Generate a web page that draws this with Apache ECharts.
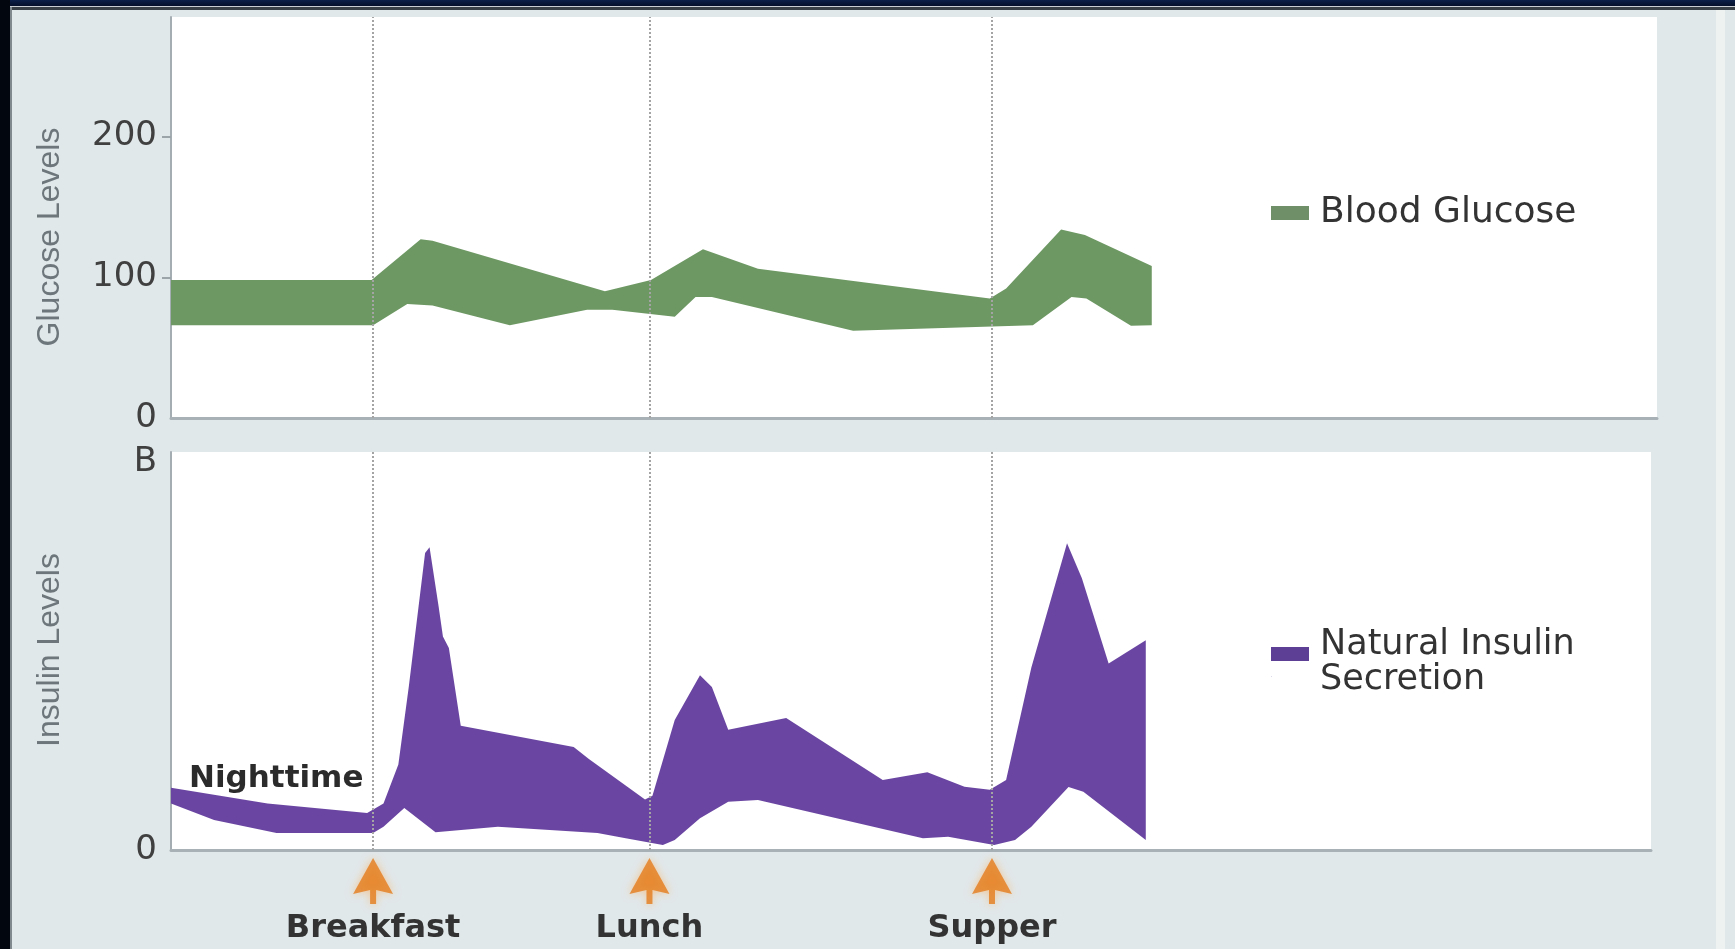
<!DOCTYPE html>
<html>
<head>
<meta charset="utf-8">
<title>Blood Glucose and Natural Insulin Secretion</title>
<script src="https://cdn.jsdelivr.net/npm/echarts@6/dist/echarts.min.js"></script>
<style>
  html, body { margin: 0; padding: 0; width: 1735px; height: 949px; overflow: hidden; background: #e1e8ea; }
  .frame { position: absolute; }
  #frameTop { left: 0; top: 0; width: 1735px; height: 6px; background: linear-gradient(#0c2048, #050f2a); }
  #lineTopLight { left: 0; top: 6px; width: 1735px; height: 1px; background: #c9ced2; }
  #lineTop { left: 10px; top: 7px; width: 1725px; height: 3px; background: #3a4146; }
  #frameLeft { left: 0; top: 0; width: 10px; height: 949px; background: #02060f; }
  #lineLeft { left: 10px; top: 7px; width: 2px; height: 942px; background: #7f898e; }
  #stripRight { left: 1716px; top: 10px; width: 9px; height: 939px; background: #eef2f0; }
  #chart { position: absolute; left: 0; top: 0; width: 1735px; height: 949px; }
</style>
</head>
<body>
<div class="frame" id="frameTop"></div>
<div class="frame" id="lineTopLight"></div>
<div class="frame" id="lineTop"></div>
<div class="frame" id="frameLeft"></div>
<div class="frame" id="lineLeft"></div>
<div class="frame" id="stripRight"></div>
<div id="chart"></div>
<script>
// Time runs 0..100 across the plot width; meals mark the dotted lines.
const mealTimes = [13.6, 32.2, 55.25];
const mealNames = ['Breakfast', 'Lunch', 'Supper'];

// Blood glucose band: upper and lower edges
const glucoseUpperT = [0, 13.5, 16.8, 17.6, 29.2, 32.3, 35.8, 39.5, 55.1, 56.2, 59.9, 61.5, 66.0];
const glucoseUpper  = [98, 98, 127, 126, 90, 98, 120, 106, 85, 92, 134, 130, 108];
const glucoseLowerT = [0, 13.6, 15.9, 17.6, 22.8, 28.0, 29.7, 33.9, 35.3, 36.4, 45.9, 58.0, 60.6, 61.6, 64.6, 66.0];
const glucoseLower  = [66, 66, 81, 80, 66, 77, 77, 72, 86, 86, 62, 66, 86, 85, 65.5, 66];

// Natural insulin secretion band: upper and lower edges
const insulinUpperT = [0, 6.5, 13.2, 14.3, 15.3, 16.0, 17.1, 17.4, 18.0, 18.3, 18.7, 19.5, 27.1, 28.1, 31.9, 32.4, 33.9, 35.6, 36.4, 37.5, 41.4, 47.9, 50.9, 53.4, 55.1, 56.2, 57.9, 60.3, 61.3, 63.1, 65.6];
const insulinUpper  = [16, 12, 9.5, 12, 22, 42, 76.5, 78, 63, 55, 52, 32, 26.5, 23.5, 13, 14, 33.5, 45, 42, 31, 34, 18, 20, 16.3, 15.5, 18, 47, 79, 70, 48, 54];
const insulinLowerT = [0, 2.9, 7.1, 13.6, 14.3, 15.7, 17.8, 22.0, 28.7, 30.6, 33.1, 33.9, 35.6, 37.5, 39.5, 50.6, 52.3, 55.4, 56.8, 57.9, 60.4, 61.4, 65.6];
const insulinLower  = [12, 7.7, 4.4, 4.4, 6, 10.8, 4.6, 6, 4.4, 3, 1.3, 2.6, 8.2, 12.4, 12.9, 3, 3.4, 1.3, 2.6, 6, 16.2, 15, 2.6];

// Axis ticks
const glucoseTicks = [0, 100, 200];
const insulinTicks = [0, 100];
const insulinTickLabels = ['0', 'B'];

const GREEN = '#6d9863';
const PURPLE = '#6a46a2';
const LABEL_FONT = 'DejaVu Sans';

function bandRenderer(upT, up, loT, lo, color) {
  return function (params, api) {
    const pts = [];
    for (let i = 0; i < upT.length; i++) pts.push(api.coord([upT[i], up[i]]));
    for (let i = loT.length - 1; i >= 0; i--) pts.push(api.coord([loT[i], lo[i]]));
    return { type: 'polygon', shape: { points: pts }, style: { fill: color } };
  };
}

const mealLine = {
  silent: true,
  symbol: ['none', 'none'],
  label: { show: false },
  lineStyle: { type: 'dotted', color: '#a4a4a4', width: 2 },
  data: mealTimes.map(t => ({ xAxis: t }))
};

const chart = echarts.init(document.getElementById('chart'), null, { renderer: 'canvas' });

const yLabelStyle = { fontFamily: LABEL_FONT, fontSize: 34, color: '#404040', margin: 14 };
const axisLineStyle = { color: '#a3adb2', width: 2 };

chart.setOption({
  animation: false,
  backgroundColor: 'transparent',
  grid: [
    { left: 171, top: 17, width: 1486, height: 401, show: true, backgroundColor: '#ffffff', borderWidth: 0 },
    { left: 171, top: 452, width: 1480, height: 398, show: true, backgroundColor: '#ffffff', borderWidth: 0 }
  ],
  xAxis: [
    {
      gridIndex: 0, type: 'value', min: 0, max: 100,
      axisLine: { show: true, onZero: false, lineStyle: { color: '#a7b1b6', width: 3 } },
      axisTick: { show: false }, axisLabel: { show: false }, splitLine: { show: false }
    },
    {
      gridIndex: 1, type: 'value', min: 0, max: 99.6,
      axisLine: { show: true, onZero: false, lineStyle: { color: '#a7b1b6', width: 3 } },
      axisTick: { show: false },
      axisLabel: {
        customValues: mealTimes,
        formatter: v => mealNames[mealTimes.indexOf(v)] || '',
        fontFamily: LABEL_FONT, fontWeight: 'bold', fontSize: 32, lineHeight: 32,
        color: '#333333', margin: 63
      },
      splitLine: { show: false }
    }
  ],
  yAxis: [
    {
      gridIndex: 0, type: 'value', min: 0, max: 285,
      axisLine: { show: true, lineStyle: axisLineStyle },
      axisTick: { show: true, customValues: [100, 200], length: 9, lineStyle: { color: '#9aa4a9', width: 2 } },
      axisLabel: Object.assign({ customValues: glucoseTicks }, yLabelStyle),
      splitLine: { show: false }
    },
    {
      gridIndex: 1, type: 'value', min: 0, max: 102.5,
      axisLine: { show: true, lineStyle: axisLineStyle },
      axisTick: { show: false },
      axisLabel: Object.assign({
        customValues: insulinTicks,
        formatter: v => insulinTickLabels[insulinTicks.indexOf(v)]
      }, yLabelStyle),
      splitLine: { show: false }
    }
  ],
  legend: [
    {
      left: 1266, top: 189, orient: 'vertical', icon: 'rect', itemWidth: 38, itemHeight: 14,
      selectedMode: false,
      textStyle: { fontFamily: LABEL_FONT, fontSize: 36, lineHeight: 38, color: '#333333', padding: [0, 0, 0, 6] },
      data: [{ name: 'Blood Glucose', itemStyle: { color: '#6f8f69' } }]
    },
    {
      // swatch sits level with the first line of the two-line label
      left: 1266, top: 622, orient: 'vertical',
      icon: 'path://M0,0 H38 V14 H0 Z M0,29.6 H0.4 V30 H0 Z', itemWidth: 38, itemHeight: 30,
      selectedMode: false,
      formatter: () => 'Natural Insulin\nSecretion',
      textStyle: { fontFamily: LABEL_FONT, fontSize: 35, lineHeight: 35, color: '#333333', padding: [0, 0, 0, 6] },
      data: [{ name: 'Natural Insulin Secretion', itemStyle: { color: '#5e3f96' } }]
    }
  ],
  graphic: [
    {
      type: 'text', x: 50, y: 237, rotation: Math.PI / 2,
      style: { text: 'Glucose Levels', font: '32px "Liberation Sans"', fill: '#6c767b', align: 'center', verticalAlign: 'middle' }
    },
    {
      type: 'text', x: 50, y: 650, rotation: Math.PI / 2,
      style: { text: 'Insulin Levels', font: '32px "Liberation Sans"', fill: '#6c767b', align: 'center', verticalAlign: 'middle' }
    },
    {
      type: 'text', left: 189, top: 763, z: 10,
      style: { text: 'Nighttime', font: 'bold 31px "DejaVu Sans"', fill: '#2b2b2b' }
    }
  ],
  series: [
    {
      name: 'meal-lines-top', type: 'scatter', xAxisIndex: 0, yAxisIndex: 0, symbol: 'none',
      data: mealTimes.map(t => [t, 0]), z: 1, silent: true, markLine: mealLine
    },
    {
      name: 'Blood Glucose', type: 'custom', xAxisIndex: 0, yAxisIndex: 0, z: 3, silent: true,
      itemStyle: { color: GREEN },
      renderItem: bandRenderer(glucoseUpperT, glucoseUpper, glucoseLowerT, glucoseLower, GREEN),
      data: [[0, 0]]
    },
    {
      name: 'meals', type: 'scatter', xAxisIndex: 1, yAxisIndex: 1, z: 5, silent: true, clip: false,
      symbol: 'path://M20,0 L40,36 L23,32 L23,46 L17,46 L17,32 L0,36 Z',
      symbolSize: [40, 46], symbolOffset: [0, 31],
      itemStyle: { color: '#e47c1c', shadowBlur: 8, shadowColor: 'rgba(255,170,80,0.7)' },
      data: mealTimes.map(t => [t, 0]),
      markLine: mealLine
    },
    {
      name: 'Natural Insulin Secretion', type: 'custom', xAxisIndex: 1, yAxisIndex: 1, z: 3, silent: true,
      itemStyle: { color: PURPLE },
      renderItem: bandRenderer(insulinUpperT, insulinUpper, insulinLowerT, insulinLower, PURPLE),
      data: [[0, 0]]
    }
  ]
});
</script>
</body>
</html>
